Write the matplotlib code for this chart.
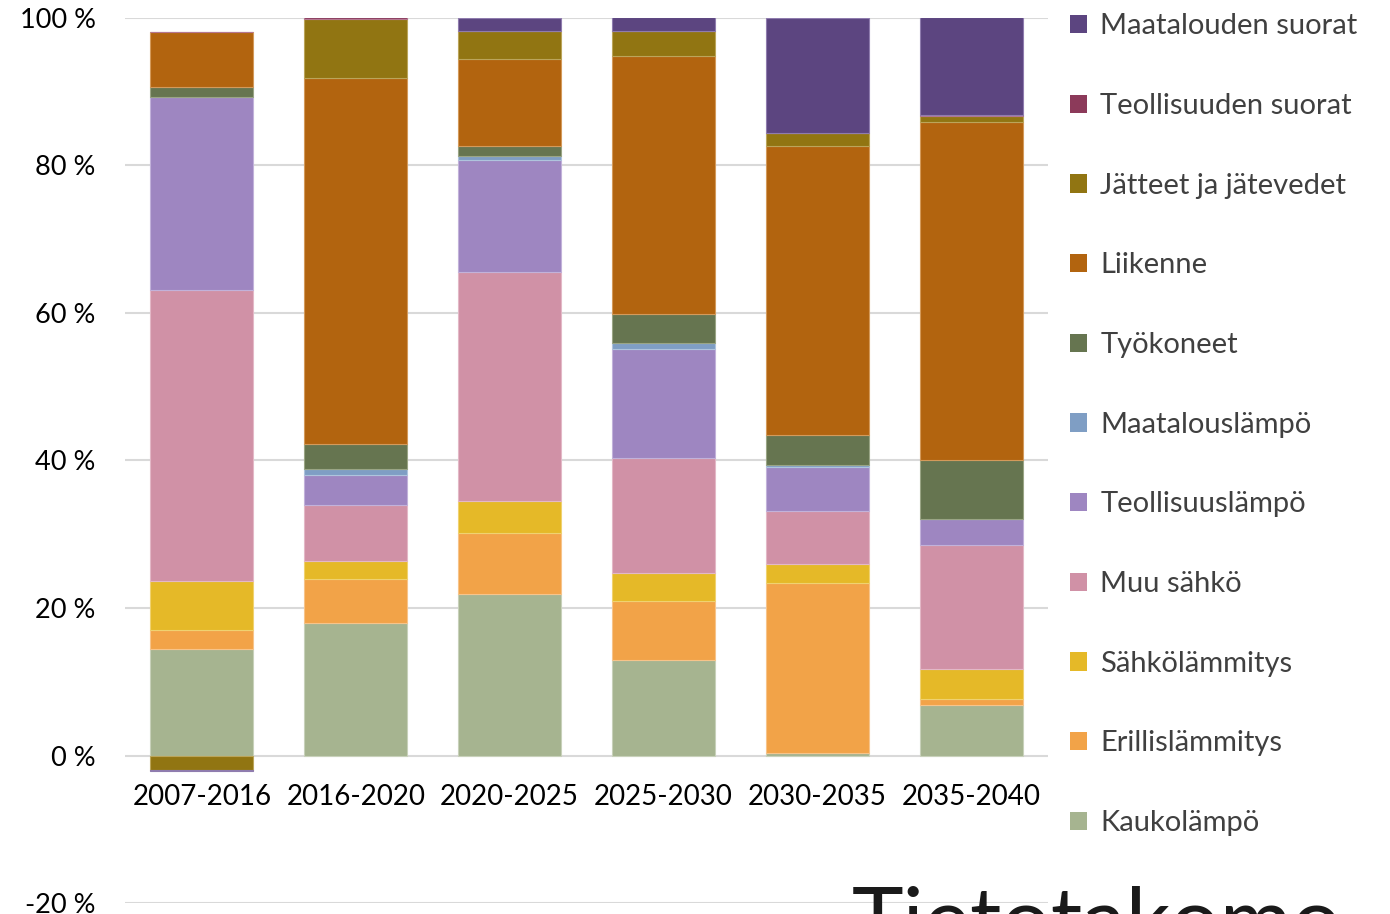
import matplotlib.pyplot as plt
import numpy as np
from matplotlib.patches import Patch

# Share of emission reductions by period and sector (%), stacked bottom -> top
periods = ['2007-2016', '2016-2020', '2020-2025', '2025-2030', '2030-2035', '2035-2040']

sectors = ['Kaukolämpö', 'Erillislämmitys', 'Sähkölämmitys', 'Muu sähkö',
           'Teollisuuslämpö', 'Maatalouslämpö', 'Työkoneet', 'Liikenne',
           'Jätteet ja jätevedet', 'Teollisuuden suorat', 'Maatalouden suorat']

kaukolampo       = [14.5, 18.0, 21.9, 13.0, 0.3, 6.8]
erillislammitys  = [2.5, 6.0, 8.3, 8.0, 23.1, 0.8]
sahkolammitys    = [6.7, 2.4, 4.3, 3.8, 2.6, 4.1]
muu_sahko        = [39.4, 7.5, 31.1, 15.5, 7.1, 16.9]
teollisuuslampo  = [26.2, 4.1, 15.2, 14.8, 6.0, 3.5]
maatalouslampo   = [0.0, 0.8, 0.5, 0.8, 0.3, 0.0]
tyokoneet        = [1.3, 3.5, 1.3, 4.0, 4.0, 8.0]
liikenne         = [7.5, 49.6, 11.9, 34.9, 39.3, 45.8]
jatteet          = [-2.0, 7.9, 3.7, 3.5, 1.7, 0.8]
teollisuus_suor  = [0.0, 0.3, 0.0, 0.0, 0.0, 0.2]
maatalous_suor   = [-0.1, 0.0, 1.8, 1.8, 15.6, 13.2]

series = [kaukolampo, erillislammitys, sahkolammitys, muu_sahko, teollisuuslampo,
          maatalouslampo, tyokoneet, liikenne, jatteet, teollisuus_suor, maatalous_suor]

colors = ['#A6B490', '#F2A348', '#E5B928', '#D091A6', '#9E86C1',
          '#7F9EC4', '#667550', '#B2640F', '#917512', '#8C3A5A', '#5C4580']

edge_colors = ['#C8D1BA', '#F7C48A', '#F0D270', '#E3B8C7', '#C2B2DA',
               '#AFC4DD', '#9AA585', '#D49A5A', '#BBA55A', '#B57791', '#8F7CAE']

fig = plt.figure(figsize=(13.9, 9.14), dpi=100)
ax = fig.add_axes([125 / 1390, 11 / 914, 923 / 1390, 885 / 914])

x = np.arange(len(periods))
pos_base = np.zeros(len(periods))
neg_base = np.zeros(len(periods))
for vals, c, ec in zip(series, colors, edge_colors):
    vals = np.array(vals, dtype=float)
    bottoms = np.where(vals >= 0, pos_base, neg_base)
    ax.bar(x, vals, width=0.67, bottom=bottoms, color=c, edgecolor=ec,
           linewidth=0.8, zorder=3)
    pos_base += np.clip(vals, 0, None)
    neg_base += np.clip(vals, None, 0)

ax.set_xlim(-0.5, len(periods) - 0.5)
ax.set_ylim(-20, 100)
ax.set_yticks([-20, 0, 20, 40, 60, 80, 100])
ax.set_yticklabels(['-20 %', '0 %', '20 %', '40 %', '60 %', '80 %', '100 %'],
                   fontsize=19.5, family='Lato')
ax.yaxis.grid(True, color='#D9D9D9', linewidth=1.5, zorder=0)
ax.tick_params(axis='y', length=0, pad=21)
ax.set_xticks([])
for s in ax.spines.values():
    s.set_visible(False)

# category labels sit just under the zero line
for xi, p in zip(x, periods):
    ax.text(xi, -5.6, p, ha='center', va='center', fontsize=20, family='Lato')

handles = [Patch(facecolor=c, edgecolor='none') for c in colors]
leg = fig.legend(handles[::-1], sectors[::-1], loc='upper left',
                 bbox_to_anchor=(1058 / 1390, 0.998), frameon=False,
                 prop={'family': 'Lato', 'size': 21}, handlelength=0.6,
                 handleheight=0.6, handletextpad=0.45, labelspacing=1.84,
                 borderaxespad=0)
for t in leg.get_texts():
    t.set_color('#404040')

fig.text(852 / 1390, -50 / 914, 'Tietotakomo', fontsize=63, family='Lato',
         color='#1A1A1A', ha='left', va='bottom')

fig.savefig('out.png', dpi=100)
